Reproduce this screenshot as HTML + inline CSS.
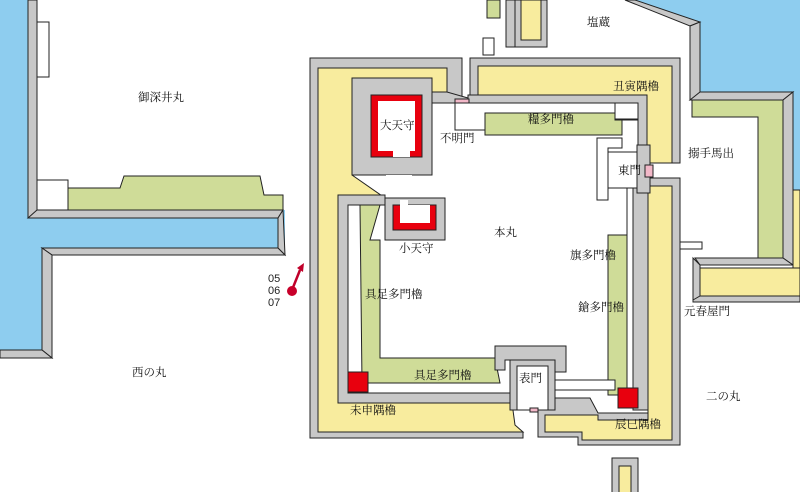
<!DOCTYPE html>
<html><head><meta charset="utf-8"><style>
html,body{margin:0;padding:0;background:#fff}
svg{display:block}
text{font-family:"Liberation Serif","Noto Serif CJK SC","Noto Sans CJK JP",serif;font-size:11.5px;fill:#111}
.n{font-family:"Liberation Sans",sans-serif;font-size:11px;fill:#222}
</style></head><body>
<svg width="800" height="492" viewBox="0 0 800 492" xmlns="http://www.w3.org/2000/svg">
<g stroke="#222" stroke-width="1">
<!-- left water -->
<polygon points="0,0 28,0 28,210 285,210 285,255 52,255 52,358 0,358" fill="#8ecdef" stroke="none"/>
<rect x="28" y="0" width="9" height="218" fill="#c8c8c8"/>
<rect x="37" y="22" width="12" height="55" fill="#fff"/>
<polygon points="68,188 120,188 124,176 260,176 264,195 283,195 283,210 68,210" fill="#cfdc98"/>
<rect x="37" y="180" width="31" height="30" fill="#fff"/>
<polygon points="28,218 37,210 283,210 278,218" fill="#c8c8c8"/>
<polygon points="278,218 283,210 285,255 278,248" fill="#c8c8c8"/>
<polygon points="42,248 278,248 285,255 52,255" fill="#c8c8c8"/>
<polygon points="42,248 52,255 52,358 42,350" fill="#c8c8c8"/>
<polygon points="0,350 42,350 52,358 0,358" fill="#c8c8c8"/>
<!-- top right water -->
<polygon points="630,0 800,0 800,190 793,190 793,95 700,95 700,22" fill="#8ecdef" stroke="none"/>
<polygon points="625,0 635,0 700,22 690,26" fill="#c8c8c8"/>
<polygon points="690,26 700,22 700,95 690,100" fill="#c8c8c8"/>
<polygon points="690,100 700,92 793,92 783,100" fill="#c8c8c8"/>
<polygon points="692,100 783,100 783,258 758,258 758,117 692,117" fill="#cfdc98"/>
<polygon points="783,100 793,92 793,265 783,258" fill="#c8c8c8"/>
<polygon points="695,258 783,258 793,265 700,265" fill="#c8c8c8"/>
<polygon points="693,258 700,265 700,300 693,300" fill="#c8c8c8"/>
<rect x="700" y="268" width="100" height="28" fill="#f8ec9e"/>
<polygon points="693,300 700,296 800,296 800,302 693,302" fill="#c8c8c8"/>
<polygon points="793,190 800,190 800,268 793,268" fill="#f8ec9e"/>
<rect x="680" y="242" width="22" height="7" fill="#fff"/>
<!-- top misc -->
<rect x="487" y="0" width="13" height="18" fill="#cfdc98"/>
<rect x="506" y="0" width="10" height="47" fill="#c8c8c8"/>
<rect x="515" y="0" width="32" height="47" fill="#c8c8c8"/>
<rect x="521" y="0" width="20" height="40" fill="#f8ec9e"/>
<rect x="483" y="38" width="11" height="17" fill="#fff"/>
<!-- bottom piece -->
<rect x="612" y="458" width="26" height="40" fill="#c8c8c8"/>
<rect x="619" y="466" width="12" height="30" fill="#f8ec9e"/>
<!-- outer ring left -->
<polygon points="310,58 462,58 462,98 447,98 447,68 318,68 318,432 523,432 523,438 310,438" fill="#c8c8c8"/>
<polygon points="318,68 447,68 447,98 432,98 432,78 352,78 352,175 385,198 338,198 338,403 512,403 515,425 523,432 318,432" fill="#f8ec9e"/>
<!-- outer ring top right -->
<polygon points="470,58 680,58 680,163 672,163 672,66 478,66 478,95 470,95" fill="#c8c8c8"/>
<polygon points="478,66 672,66 672,163 647,163 647,95 478,95" fill="#f8ec9e"/>
<polygon points="468,95 647,95 647,160 638,160 638,103 468,103" fill="#c8c8c8"/>
<!-- outer ring right / bottom -->
<polygon points="648,178 680,178 680,445 578,445 578,437 538,437 538,410 555,410 555,398 590,398 598,413 648,413" fill="#c8c8c8"/>
<polygon points="648,186 672,186 672,440 582,440 582,432 545,432 545,415 598,415 598,420 648,420" fill="#f8ec9e"/>
<rect x="633" y="185" width="15" height="225" fill="#c8c8c8"/>
<!-- inner left wall -->
<polygon points="338,195 385,195 385,205 348,205 348,393 512,393 512,403 338,403" fill="#c8c8c8"/>
<polygon points="360,205 380,205 370,240 380,240 380,358 495,358 500,383 362,383" fill="#cfdc98"/>
<!-- tenshu -->
<rect x="352" y="78" width="80" height="97" fill="#c8c8c8"/>
<rect x="371" y="95" width="51" height="62" fill="#e8000e"/>
<rect x="378" y="101" width="37" height="50" fill="#fff" stroke="none"/>
<rect x="393" y="151" width="17" height="6" fill="#fff" stroke="none"/>
<rect x="386" y="175" width="26" height="25" fill="#fff" stroke="none"/>
<polygon points="432,92 447,92 468,98 468,103 432,103" fill="#c8c8c8"/>
<rect x="455" y="99" width="14" height="4" fill="#f2b8c8"/>
<rect x="385" y="198" width="60" height="42" fill="#c8c8c8"/>
<rect x="393" y="205" width="43" height="25" fill="#e8000e"/>
<rect x="400" y="205" width="30" height="18" fill="#fff" stroke="none"/>
<rect x="400" y="200" width="8" height="5" fill="#fff" stroke="none"/>
<!-- inner top corridor -->
<polygon points="455,103 638,103 638,120 622,120 622,135 485,135 485,130 455,130" fill="#fff"/>
<polygon points="485,113 615,113 615,120 622,120 622,135 485,135" fill="#cfdc98"/>
<rect x="615" y="103" width="23" height="16" fill="#fff"/>
<polygon points="597,138 622,138 622,148 608,148 608,200 597,200" fill="#fff"/>
<!-- right inner -->
<rect x="608" y="235" width="19" height="160" fill="#cfdc98"/>
<rect x="627" y="188" width="6" height="210" fill="#fff"/>
<rect x="608" y="152" width="30" height="36" fill="#fff"/>
<rect x="637" y="145" width="13" height="48" fill="#c8c8c8"/>
<rect x="645" y="165" width="8" height="12" fill="#f2b8c8"/>
<!-- red squares -->
<rect x="348" y="372" width="20" height="20" fill="#e8000e"/>
<rect x="618" y="388" width="20" height="20" fill="#e8000e"/>
<!-- omote gate -->
<polygon points="495,346 566,346 566,372 555,372 555,360 505,360 505,370 495,370" fill="#c8c8c8"/>
<rect x="510" y="360" width="45" height="50" fill="#c8c8c8"/>
<rect x="517" y="366" width="31" height="44" fill="#fff"/>
<rect x="530" y="408" width="8" height="4" fill="#f2b8c8"/>
<rect x="555" y="380" width="60" height="10" fill="#fff"/>
</g>
<!-- marker -->
<line x1="292" y1="290" x2="300" y2="270" stroke="#c0002a" stroke-width="2.5"/>
<polygon points="297,268 304,263 303,272" fill="#c0002a"/>
<circle cx="292" cy="291" r="5" fill="#c8002a"/>
<text class="n" x="268" y="282">05</text>
<text class="n" x="268" y="294">06</text>
<text class="n" x="268" y="306">07</text>
<!-- labels -->
<text x="138" y="101">御深井丸</text>
<text x="132" y="376">西の丸</text>
<text x="494" y="236">本丸</text>
<text x="380" y="129">大天守</text>
<text x="399" y="252">小天守</text>
<text x="440" y="142">不明門</text>
<text x="528" y="123">糧多門櫓</text>
<text x="613" y="90">丑寅隅櫓</text>
<text x="618" y="174">東門</text>
<text x="688" y="157">搦手馬出</text>
<text x="570" y="259">旗多門櫓</text>
<text x="578" y="311">鎗多門櫓</text>
<text x="684" y="315">元春屋門</text>
<text x="706" y="400">二の丸</text>
<text x="365" y="298">具足多門櫓</text>
<text x="414" y="379">具足多門櫓</text>
<text x="350" y="414">未申隅櫓</text>
<text x="615" y="428">辰巳隅櫓</text>
<text x="519" y="382">表門</text>
<text x="587" y="26">塩蔵</text>
</svg>
</body></html>
